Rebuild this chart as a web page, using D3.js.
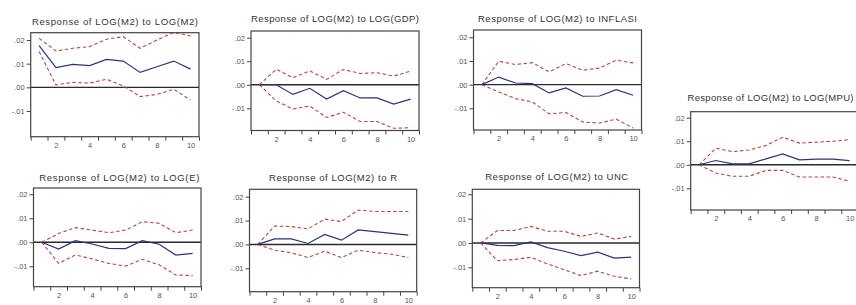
<!DOCTYPE html>
<html lang="en">
<head>
    <meta charset="UTF-8">
    <title>Impulse responses of LOG(M2)</title>
    <script src="https://cdn.jsdelivr.net/npm/d3@7"></script>
    <style>
        body { margin: 0; background: #fff; }
        svg { display: block; font-family: "Liberation Sans", Arial, sans-serif; }
    </style>
</head>
<body>
    <div id="chart"></div>

    <script>
        // periods and axis labels
        const periods = [1, 2, 3, 4, 5, 6, 7, 8, 9, 10];
        const xLabels = [2, 4, 6, 8, 10];
        const yTicks = [0.02, 0.01, 0, -0.01];
        const yTickLabels = [".02", ".01", ".00", "-.01"];

        const titles = [
            "Response of LOG(M2) to LOG(M2)",
            "Response of LOG(M2) to LOG(GDP)",
            "Response of LOG(M2) to INFLASI",
            "Response of LOG(M2) to LOG(MPU)",
            "Response of LOG(M2) to LOG(E)",
            "Response of LOG(M2) to R",
            "Response of LOG(M2) to UNC"
        ];

        // impulse response (solid) per shock
        const response = [
            [0.0176, 0.0083, 0.0097, 0.0092, 0.0118, 0.0111, 0.0063, 0.0087, 0.0111, 0.0077],
            [0, 0, -0.0041, -0.0015, -0.0061, -0.0025, -0.0056, -0.0056, -0.0082, -0.0061],
            [0, 0.0032, 0.0007, 0.0004, -0.0035, -0.0014, -0.0049, -0.0048, -0.0021, -0.0045],
            [0, 0.0018, 0.0004, 0.0004, 0.0025, 0.0046, 0.0021, 0.0024, 0.0024, 0.0018],
            [0, -0.0028, 0.0007, -0.0007, -0.0025, -0.0026, 0.0007, -0.0008, -0.0053, -0.0046],
            [0, 0.0023, 0.0023, 0.0004, 0.0042, 0.0018, 0.0061, 0.0054, 0.0046, 0.0039],
            [0, -0.0010, -0.0011, 0.0004, -0.0019, -0.0034, -0.0052, -0.0038, -0.0062, -0.0058]
        ];

        // +/- 2 S.E. bands (dashed)
        const upper = [
            [0.0207, 0.0154, 0.0165, 0.0172, 0.0203, 0.0214, 0.0165, 0.0200, 0.0232, 0.0217],
            [0, 0.0066, 0.0030, 0.0059, 0.0023, 0.0065, 0.0048, 0.0051, 0.0037, 0.0058],
            [0, 0.0099, 0.0085, 0.0093, 0.0054, 0.0089, 0.0061, 0.0070, 0.0103, 0.0092],
            [0, 0.0070, 0.0056, 0.0063, 0.0082, 0.0117, 0.0092, 0.0096, 0.0100, 0.0107],
            [0, 0.0037, 0.0061, 0.0051, 0.0040, 0.0051, 0.0086, 0.0079, 0.0040, 0.0051],
            [0, 0.0077, 0.0075, 0.0065, 0.0106, 0.0096, 0.0144, 0.0138, 0.0138, 0.0138],
            [0, 0.0051, 0.0051, 0.0068, 0.0048, 0.0048, 0.0027, 0.0041, 0.0016, 0.0027]
        ];
        const lower = [
            [0.0151, 0.0010, 0.0021, 0.0018, 0.0034, 0.0006, -0.0039, -0.0030, -0.0008, -0.0054],
            [0, -0.0069, -0.0103, -0.0090, -0.0139, -0.0117, -0.0156, -0.0156, -0.0185, -0.0182],
            [0, -0.0031, -0.0059, -0.0073, -0.0123, -0.0118, -0.0158, -0.0162, -0.0146, -0.0183],
            [0, -0.0035, -0.0049, -0.0049, -0.0024, -0.0024, -0.0052, -0.0052, -0.0052, -0.0070],
            [0, -0.0088, -0.0053, -0.0069, -0.0088, -0.0099, -0.0071, -0.0094, -0.0136, -0.0139],
            [0, -0.0024, -0.0035, -0.0055, -0.0028, -0.0055, -0.0024, -0.0034, -0.0041, -0.0055],
            [0, -0.0073, -0.0068, -0.0059, -0.0086, -0.0110, -0.0134, -0.0116, -0.0137, -0.0148]
        ];

        // where each little graph sits on the page (the panels are not all the same size)
        const layout = [
            {x0: 30.7, x1: 199,   top: 32.7,  bottom: 136.7, y02: 40,    ym01: 111,   tx: 115,   ty: 24.5,  tw: 166},
            {x0: 251,  x1: 419,   top: 31,    bottom: 130.5, y02: 37.7,  ym01: 108.3, tx: 335,   ty: 21.5,  tw: 168},
            {x0: 473.5,x1: 641.5, top: 30,    bottom: 130,   y02: 37.3,  ym01: 108.3, tx: 557.5, ty: 21.5,  tw: 159},
            {x0: 690.7,x1: 858,   top: 111.7, bottom: 210,   y02: 117.7, ym01: 188.3, tx: 770.5, ty: 101,   tw: 166},
            {x0: 33.5, x1: 201,   top: 188,   bottom: 286.7, y02: 194.3, ym01: 266.3, tx: 119.3, ty: 181,   tw: 160},
            {x0: 249.5,x1: 416.7, top: 189.3, bottom: 291.7, y02: 196.7, ym01: 268.3, tx: 333,   ty: 181,   tw: 128},
            {x0: 472.3,x1: 639.5, top: 189.3, bottom: 287.7, y02: 194.3, ym01: 267.3, tx: 556.7, ty: 180,   tw: 143}
        ];

        const width = 856;
        const height = 305;

        const svg = d3.select("#chart").append("svg")
            .attr("width", width)
            .attr("height", height);

        const halfSteps = d3.range(0.5, 10.51, 1);

        titles.forEach((title, i) => {
            const L = layout[i];
            const g = svg.append("g");

            const x = d3.scaleLinear()
                .domain([0.5, 10.5])
                .range([L.x0, L.x1]);

            const y = d3.scaleLinear()
                .domain([-0.01, 0.02])
                .range([L.ym01, L.y02]);

            // title
            g.append("text")
                .attr("x", L.tx)
                .attr("y", L.ty)
                .attr("text-anchor", "middle")
                .attr("font-size", 9.5)
                .attr("fill", "#333")
                .attr("textLength", L.tw)
                .attr("lengthAdjust", "spacing")
                .text(title);

            // y axis
            g.append("g")
                .attr("transform", `translate(${L.x0},0)`)
                .call(d3.axisLeft(y)
                    .tickValues(yTicks)
                    .tickFormat((d, k) => yTickLabels[k])
                    .tickSize(4)
                    .tickPadding(2))
                .call(a => a.select(".domain").remove())
                .call(a => a.selectAll("line").attr("stroke", "#444"))
                .call(a => a.selectAll("text")
                    .attr("font-size", 7.5)
                    .attr("fill", "#555")
                    .attr("font-family", "Liberation Sans, Arial, sans-serif"));

            // x axis: tick marks between periods, labels at even periods
            g.append("g")
                .attr("transform", `translate(0,${L.bottom})`)
                .call(d3.axisBottom(x)
                    .tickValues(halfSteps)
                    .tickFormat("")
                    .tickSize(4))
                .call(a => a.select(".domain").remove())
                .call(a => a.selectAll("line").attr("stroke", "#444"));

            g.append("g")
                .attr("transform", `translate(0,${L.bottom})`)
                .call(d3.axisBottom(x)
                    .tickValues(xLabels)
                    .tickFormat(d3.format("d"))
                    .tickSize(0)
                    .tickPadding(6))
                .call(a => a.select(".domain").remove())
                .call(a => a.selectAll("text")
                    .attr("font-size", 7.5)
                    .attr("fill", "#555")
                    .attr("font-family", "Liberation Sans, Arial, sans-serif"));

            // zero line
            g.append("line")
                .attr("x1", L.x0)
                .attr("x2", L.x1)
                .attr("y1", y(0))
                .attr("y2", y(0))
                .attr("stroke", "#2a2a2a")
                .attr("stroke-width", 1.4);

            const line = d3.line()
                .x((d, k) => x(periods[k]))
                .y(d => y(d));

            // bands
            [upper[i], lower[i]].forEach(band => {
                g.append("path")
                    .datum(band)
                    .attr("d", line)
                    .attr("fill", "none")
                    .attr("stroke", "#b4454a")
                    .attr("stroke-width", 1.1)
                    .attr("stroke-dasharray", "3.5,2.5");
            });

            // response
            g.append("path")
                .datum(response[i])
                .attr("d", line)
                .attr("fill", "none")
                .attr("stroke", "#2c3184")
                .attr("stroke-width", 1.2);

            // frame
            g.append("rect")
                .attr("x", L.x0)
                .attr("y", L.top)
                .attr("width", L.x1 - L.x0)
                .attr("height", L.bottom - L.top)
                .attr("fill", "none")
                .attr("stroke", "#444")
                .attr("stroke-width", 1.2);
        });
    </script>
</body>
</html>
